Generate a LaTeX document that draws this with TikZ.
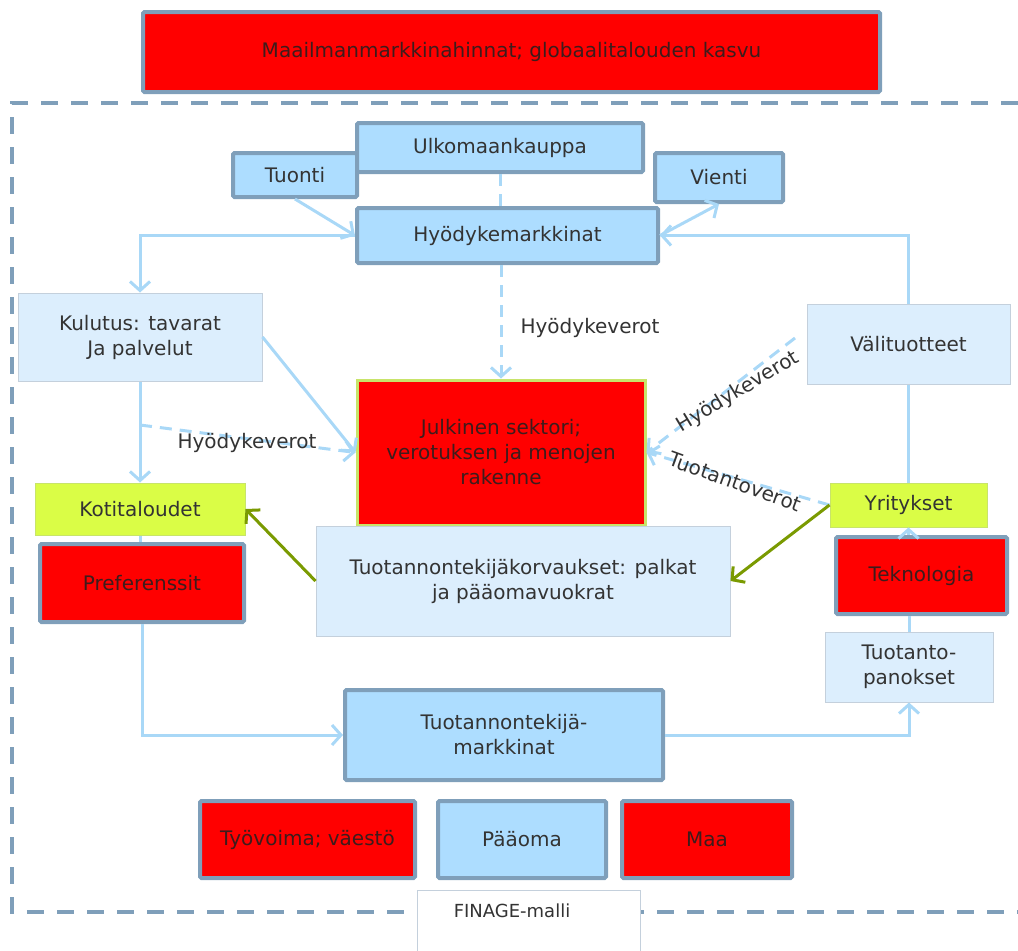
\documentclass[tikz,border=0pt]{standalone}
\usepackage{fontspec}
\setmainfont{DejaVu Sans}
\usetikzlibrary{arrows.meta}
\definecolor{bfill}{HTML}{ADDDFF}
\definecolor{bdraw}{HTML}{7F9FBA}
\definecolor{lfill}{HTML}{DCEEFD}
\definecolor{ldraw}{HTML}{C4D0DC}
\definecolor{yfill}{HTML}{DAFD46}
\definecolor{ydraw}{HTML}{C8E46A}
\definecolor{conn}{HTML}{A9D8F7}
\definecolor{grn}{HTML}{7A9A01}
\definecolor{txt}{HTML}{333333}
\definecolor{rtxt}{HTML}{3D1C1C}
\tikzset{
  base/.style={rectangle, align=center, inner sep=0pt, text=txt,
    font=\fontsize{20}{25}\selectfont},
  bluebox/.style={base, fill=bfill, draw=bdraw, line width=4pt, rounded corners=1.5pt},
  redbox/.style={base, fill=red, draw=bdraw, line width=4pt, rounded corners=1.5pt, text=rtxt},
  lightbox/.style={base, fill=lfill, draw=ldraw, line width=1pt},
  yellowbox/.style={base, fill=yfill, draw=ydraw, line width=1pt},
  conline/.style={draw=conn, line width=3pt},
  arr/.style={conline, -{Straight Barb[length=9pt,width=20pt,line width=3pt]}},
  darr/.style={arr, dash pattern=on 12pt off 8pt},
  dline/.style={conline, dash pattern=on 12pt off 8pt},
  garr/.style={draw=grn, line width=3pt, -{Straight Barb[length=9pt,width=20pt,line width=3pt]}},
  lbl/.style={text=txt, font=\fontsize{20}{25}\selectfont, inner sep=0pt},
}
\begin{document}
\begin{tikzpicture}[x=1pt,y=-1pt]
\useasboundingbox (0,0) rectangle (1018,951);
% outer dashed frame
\draw[draw=bdraw, line width=4pt, dash pattern=on 17pt off 13pt] (1018,103) -- (12,103) -- (12,912) -- (1018,912);
% boxes
\node[redbox, minimum width=737pt, minimum height=80pt] (top) at (511.5,52) {Maailmanmarkkinahinnat; globaalitalouden kasvu};
\node[bluebox, minimum width=124pt, minimum height=44pt] (tuonti) at (295,175) {Tuonti};
\node[bluebox, minimum width=286pt, minimum height=49pt] (ulko) at (500,147.5) {Ulkomaankauppa};
\node[bluebox, minimum width=128pt, minimum height=49pt] (vienti) at (719,177.5) {Vienti};
\node[bluebox, minimum width=301pt, minimum height=55pt] (hyody) at (507.5,235.5) {Hyödykemarkkinat};
\node[lightbox, minimum width=244pt, minimum height=88pt] (kulutus) at (140,337) {Kulutus: tavarat\\Ja palvelut};
\node[lightbox, minimum width=203pt, minimum height=80pt] (valit) at (908.5,344) {Välituotteet};
\node[base, fill=red, draw=ydraw, line width=3pt, text=rtxt, minimum width=288pt, minimum height=145pt] (julk) at (501,452.5) {Julkinen sektori;\\verotuksen ja menojen\\rakenne};
\node[yellowbox, minimum width=210pt, minimum height=52pt] (koti) at (140,509) {Kotitaloudet};
\node[redbox, minimum width=204pt, minimum height=78pt] (pref) at (142,583) {Preferenssit};
\node[lightbox, minimum width=414pt, minimum height=110pt] (korv) at (523,581) {Tuotannontekijäkorvaukset: palkat\\ja pääomavuokrat};
\node[yellowbox, minimum width=157pt, minimum height=44pt] (yrit) at (908.5,505) {Yritykset};
\node[redbox, minimum width=171pt, minimum height=77pt] (tekn) at (921.5,575.5) {Teknologia};
\node[lightbox, minimum width=168pt, minimum height=70pt] (panok) at (909,667) {Tuotanto-\\panokset};
\node[bluebox, minimum width=318pt, minimum height=90pt] (tmark) at (504,735) {Tuotannontekijä-\\markkinat};
\node[redbox, minimum width=215pt, minimum height=77pt] (tyo) at (307.5,839.5) {Työvoima; väestö};
\node[bluebox, minimum width=168pt, minimum height=77pt] (paa) at (522,839.5) {Pääoma};
\node[redbox, minimum width=170pt, minimum height=77pt] (maa) at (707,839.5) {Maa};
\node[base, fill=white, draw=ldraw, line width=1pt, minimum width=223pt, minimum height=70pt] (finage) at (528.5,925) {};
\node[lbl, font=\fontsize{18}{22}\selectfont] (finlbl) at (512,911) {FINAGE-malli};
% connectors
\draw[dline] (ulko.south) -- (ulko.south |- hyody.north);
\draw[arr] (tuonti.south) -- (hyody.west);
\draw[arr] (hyody.east) -- (vienti.south);
\draw[arr] (valit.north) |- (hyody.east);
\draw[arr] (hyody.west) -| (kulutus.north);
\draw[darr] (julk.north |- hyody.south) -- (julk.north);
\node[lbl] (l1) at (590,328) {Hyödykeverot};
\draw[arr] (kulutus.east) -- (julk.west);
\draw[arr] (kulutus.south) -- (koti.north);
\coordinate (c1) at (140,425);
\draw[darr] (c1) -- (julk.west);
\node[lbl] (l2) at (247,443) {Hyödykeverot};
\coordinate (c2) at (795,338);
\draw[darr] (c2) -- (julk.east);
\node[lbl, rotate=31] (l3) at (738,392) {Hyödykeverot};
\draw[darr] (yrit.west) -- (julk.east);
\node[lbl, rotate=-20] (l4) at (735,482) {Tuotantoverot};
\draw[conline] (valit.south) -- (yrit.north);
\draw[arr] (yrit.south |- tekn.north) -- (yrit.south);
\draw[conline] (panok.north) -- (panok.north |- tekn.south);
\draw[arr] (tmark.east) -| (panok.south);
\draw[arr] (pref.south) |- (tmark.west);
\draw[conline] (koti.south) -- (koti.south |- pref.north);
\draw[garr] (korv.west) -- (koti.east);
\draw[garr] (yrit.west) -- (korv.east);
\end{tikzpicture}
\end{document}
